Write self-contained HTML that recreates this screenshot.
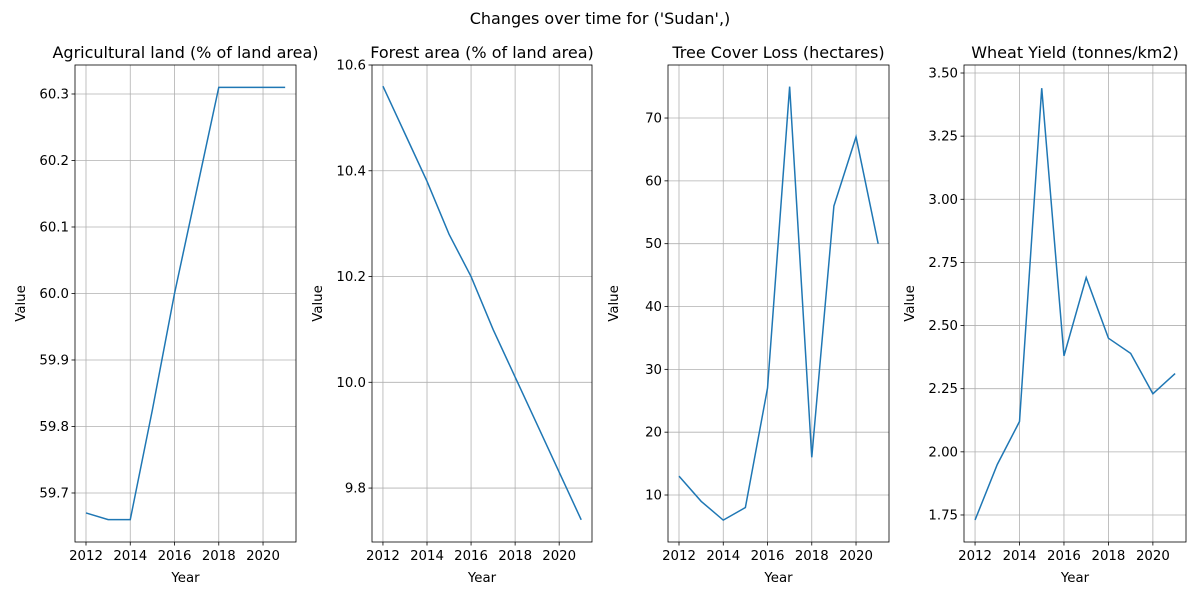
<!DOCTYPE html>
<html><head><meta charset="utf-8">
<style>
body{margin:0;background:#fff;}
svg text{font-family:"DejaVu Sans","Liberation Sans",sans-serif;fill:#000;}
</style></head>
<body>
<svg id="chart" width="1200" height="600" xmlns="http://www.w3.org/2000/svg">
<text x="600" y="24" font-size="16" text-anchor="middle">Changes over time for ('Sudan',)</text>
</svg>
<script>
const years = [2012,2013,2014,2015,2016,2017,2018,2019,2020,2021];
const xTicks = [2012,2014,2016,2018,2020];
const agriValues = [59.67,59.66,59.66,59.825,60.0,60.155,60.31,60.31,60.31,60.31];
const forestValues = [10.56,10.47,10.38,10.28,10.20,10.10,10.01,9.92,9.83,9.74];
const lossValues = [13,9,6,8,27,75,16,56,67,50];
const wheatValues = [1.73,1.95,2.12,3.44,2.38,2.69,2.45,2.39,2.23,2.31];
const agriTicks = [59.7,59.8,59.9,60.0,60.1,60.2,60.3];
const forestTicks = [9.8,10.0,10.2,10.4,10.6];
const lossTicks = [10,20,30,40,50,60,70];
const wheatTicks = [1.75,2.00,2.25,2.50,2.75,3.00,3.25,3.50];

const NS="http://www.w3.org/2000/svg";
const svgEl=document.getElementById('chart');
function mk(tag,attrs,parent){const e=document.createElementNS(NS,tag);for(const k in attrs)e.setAttribute(k,attrs[k]);(parent||svgEl).appendChild(e);return e;}

const panels=[
 {name:'agricultural-land',title:'Agricultural land (% of land area)',left:75,right:296,vals:agriValues,ticks:agriTicks,ymin:59.6263,ymax:60.3436,dec:1},
 {name:'forest-area',title:'Forest area (% of land area)',left:372,right:592,vals:forestValues,ticks:forestTicks,ymin:9.698,ymax:10.6,dec:1},
 {name:'tree-cover-loss',title:'Tree Cover Loss (hectares)',left:668,right:889,vals:lossValues,ticks:lossTicks,ymin:2.52,ymax:78.44,dec:0},
 {name:'wheat-yield',title:'Wheat Yield (tonnes/km2)',left:964,right:1186,vals:wheatValues,ticks:wheatTicks,ymin:1.643,ymax:3.5317,dec:2}
];
const yTop=65,yBot=542,xmin=2011.503,xmax=2021.49;
panels.forEach(p=>{
 const g=mk('g',{});
 
 
 const xs=v=>p.left+(v-xmin)/(xmax-xmin)*(p.right-p.left);
 const ys=v=>yBot-(v-p.ymin)/(p.ymax-p.ymin)*(yBot-yTop);
 xTicks.forEach(t=>{
  const x=xs(t);
  mk('line',{x1:x,x2:x,y1:yTop,y2:yBot,stroke:'#b0b0b0','stroke-width':0.8},g);
  mk('line',{x1:x,x2:x,y1:yBot,y2:yBot+3.5,stroke:'#000','stroke-width':0.8},g);
  const tx=mk('text',{x:x,y:yBot+18,'font-size':13.3,'text-anchor':'middle'},g);
  tx.textContent=t;
  
  
 });
 p.ticks.forEach(t=>{
  const y=ys(t);
  mk('line',{x1:p.left,x2:p.right,y1:y,y2:y,stroke:'#b0b0b0','stroke-width':0.8},g);
  mk('line',{x1:p.left-3.5,x2:p.left,y1:y,y2:y,stroke:'#000','stroke-width':0.8},g);
  const tx=mk('text',{x:p.left-6,y:y+4.5,'font-size':13.3,'text-anchor':'end'},g);
  tx.textContent=t.toFixed(p.dec);
  
  
 });
 const d=p.vals.map((v,i)=>(i?'L':'M')+xs(years[i]).toFixed(2)+','+ys(v).toFixed(2)).join(' ');
 const line=mk('path',{d:d,fill:'none',stroke:'#1f77b4','stroke-width':1.5},g);
 
 
 mk('rect',{x:p.left,y:yTop,width:p.right-p.left,height:yBot-yTop,fill:'none',stroke:'#000','stroke-width':0.8},g);
 const tt=mk('text',{x:(p.left+p.right)/2,y:58,'font-size':16,'text-anchor':'middle'},g);
 tt.textContent=p.title;
 
 
 const xl=mk('text',{x:(p.left+p.right)/2,y:582,'font-size':13.3,'text-anchor':'middle'},g);
 xl.textContent='Year';
 
 
 const yl=mk('text',{x:0,y:0,'font-size':13.3,'text-anchor':'middle',transform:`translate(${p.left-50},${(yTop+yBot)/2}) rotate(-90)`},g);
 yl.textContent='Value';
 
 
});
</script>
</body></html>
